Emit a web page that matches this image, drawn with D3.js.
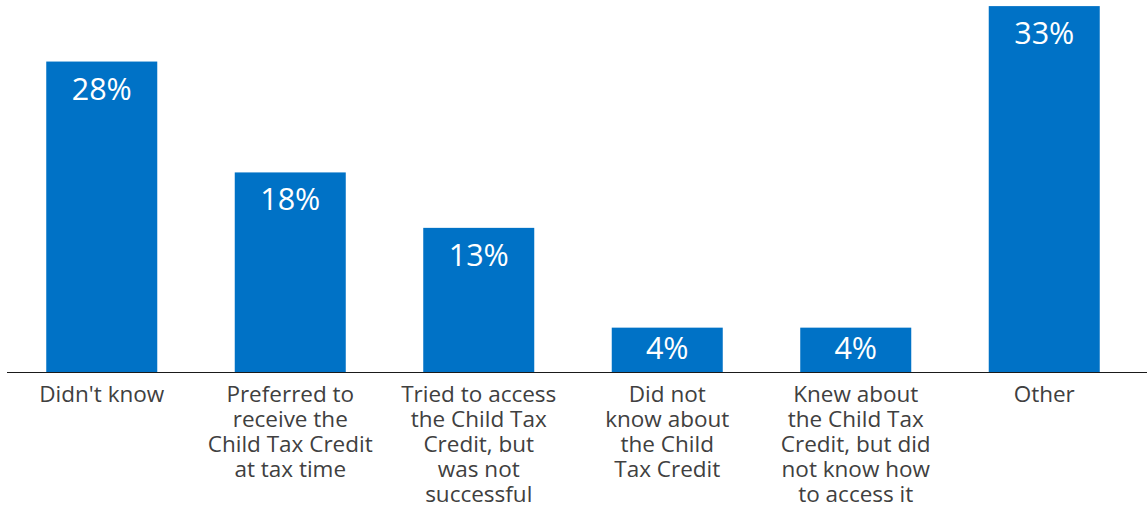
<!DOCTYPE html>
<html>
<head>
<meta charset="utf-8">
<script src="https://cdn.jsdelivr.net/npm/d3@7"></script>
<style>
  html, body { margin: 0; padding: 0; background: #fff; }
  svg { display: block; }
  text { font-family: "Open Sans", sans-serif; }
</style>
</head>
<body>
<svg id="chart" width="1147" height="509"></svg>
<script>
// Reasons given, one bar per reason (line breaks mark label wrapping)
const categories = [
  "Didn't know",
  "Preferred to\nreceive the\nChild Tax Credit\nat tax time",
  "Tried to access\nthe Child Tax\nCredit, but\nwas not\nsuccessful",
  "Did not\nknow about\nthe Child\nTax Credit",
  "Knew about\nthe Child Tax\nCredit, but did\nnot know how\nto access it",
  "Other"
];
const values = [28, 18, 13, 4, 4, 33];
const valueLabels = ["28%", "18%", "13%", "4%", "4%", "33%"];

const W = 1147, H = 509;
const baseY = 372;
const svg = d3.select("#chart");

const x = d3.scaleBand()
  .domain(categories)
  .range([7.5, 1138.5])
  .paddingInner(0.4111)
  .paddingOuter(0.2056);

const y = d3.scaleLinear()
  .domain([0, 33.1])
  .range([baseY, 5]);

// Bars
svg.append("g")
  .selectAll("rect")
  .data(values)
  .join("rect")
  .attr("x", (d, i) => x(categories[i]))
  .attr("y", d => y(d))
  .attr("width", x.bandwidth())
  .attr("height", d => baseY - y(d))
  .attr("fill", "#0072C6");

// Value labels inside the bars (centred when the bar is short)
svg.append("g")
  .selectAll("text")
  .data(values)
  .join("text")
  .attr("x", (d, i) => x(categories[i]) + x.bandwidth() / 2)
  .attr("y", d => {
    const top = y(d);
    return Math.min(top + 38, (top + baseY) / 2 + 9.5);
  })
  .attr("text-anchor", "middle")
  .attr("fill", "#fff")
  .style("font-size", "30.5px")
  .text((d, i) => valueLabels[i]);

// Baseline
svg.append("line")
  .attr("x1", 7).attr("x2", W)
  .attr("y1", baseY + 0.5).attr("y2", baseY + 0.5)
  .attr("stroke", "#1a1a1a")
  .attr("stroke-width", 1.2);

// Category axis, labels wrapped over several lines
const axis = svg.append("g")
  .attr("transform", `translate(0,${baseY})`)
  .call(d3.axisBottom(x).tickSize(0).tickFormat(""));
axis.select(".domain").remove();

axis.selectAll(".tick").each(function(d) {
  const t = d3.select(this).select("text")
    .attr("y", 0).attr("dy", null)
    .attr("fill", "#404040")
    .style("font-size", "22.5px")
    .style("font-family", "'Open Sans', sans-serif")
    .attr("text-anchor", "middle");
  t.text(null);
  d.split("\n").forEach((line, k) => {
    t.append("tspan")
      .attr("x", 0)
      .attr("y", 30 + k * 25)
      .text(line);
  });
});
</script>
</body>
</html>
